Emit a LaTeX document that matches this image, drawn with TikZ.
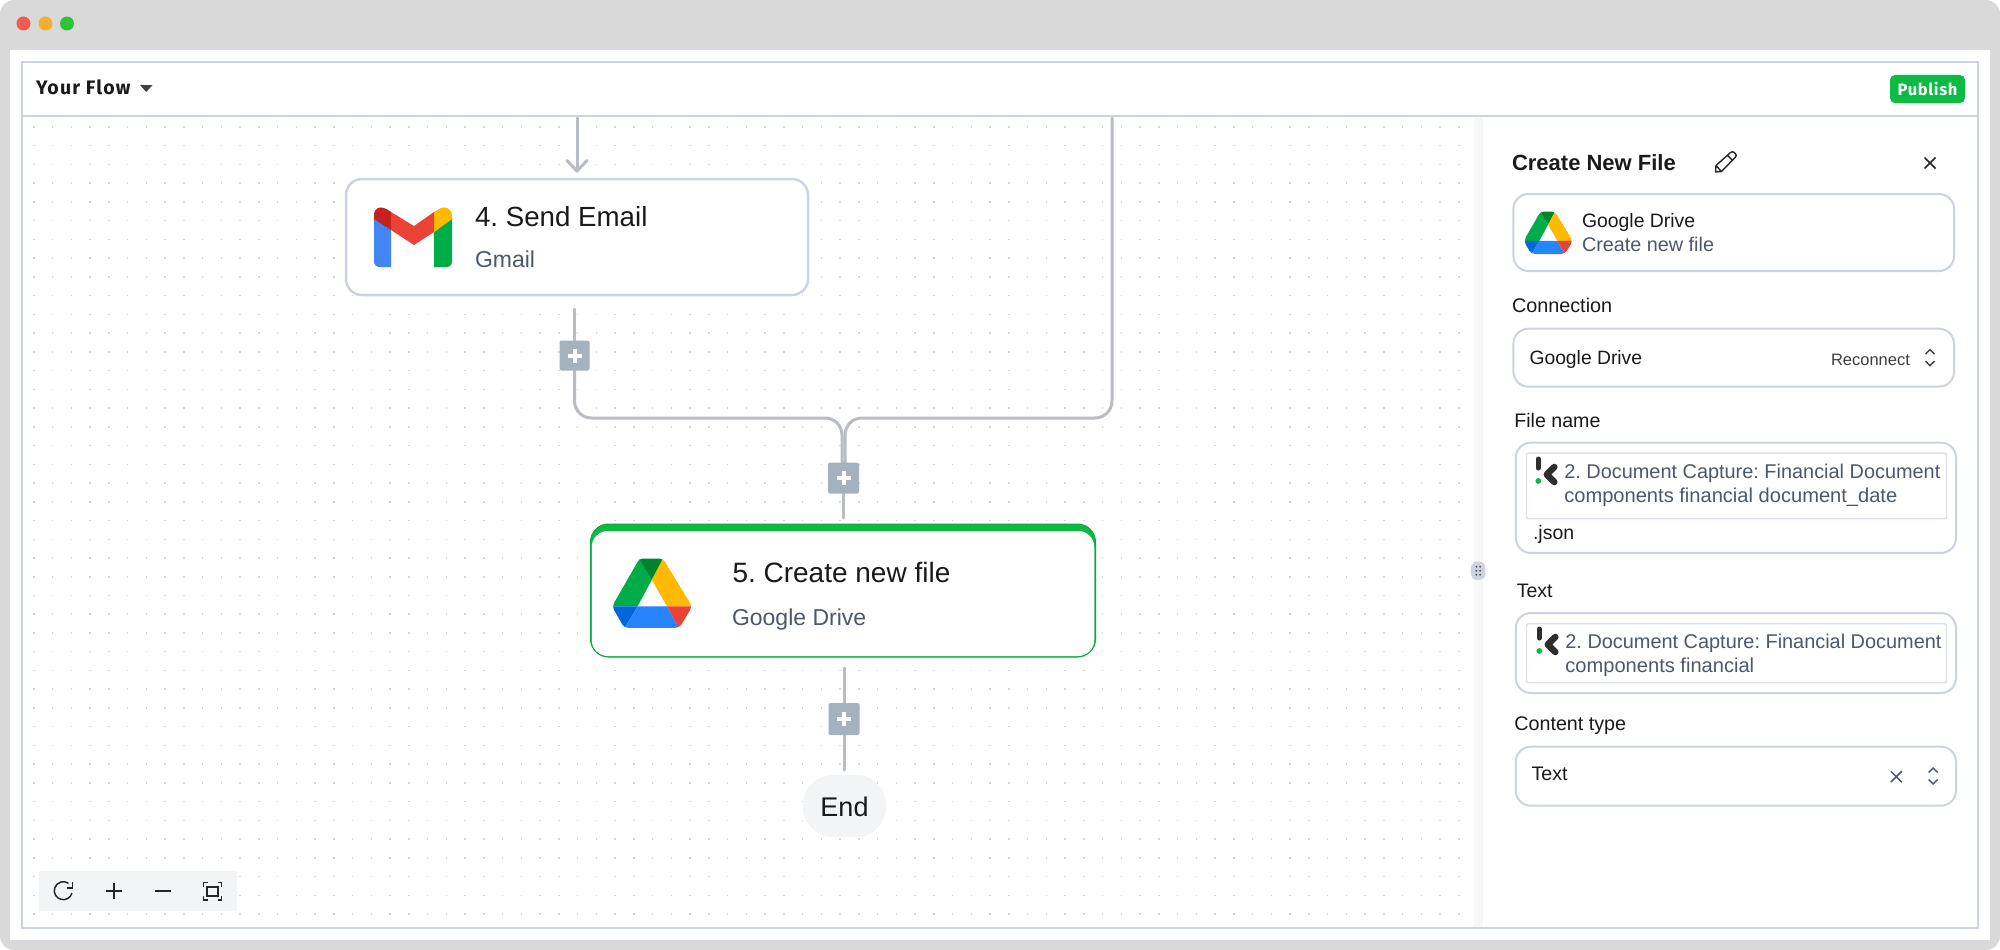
\documentclass[tikz,border=0pt]{standalone}
\usepackage{fontspec}
\setmainfont{Liberation Sans}
\newfontfamily\headf[LetterSpace=6]{Fira Sans}
\newfontfamily\pubf[LetterSpace=4]{Fira Sans}
\definecolor{shell}{HTML}{D9D9D9}
\definecolor{frameline}{HTML}{CDD3E0}
\definecolor{flowline}{HTML}{B9BCC3}
\definecolor{plusbg}{HTML}{A6B1C0}
\definecolor{pubgreen}{HTML}{0DBB44}
\definecolor{inkmain}{HTML}{1A1A1A}
\definecolor{inksub}{HTML}{4D586B}
\definecolor{softbg}{HTML}{F3F4F6}
\definecolor{dotc}{HTML}{D3D6DC}
\definecolor{gblue}{HTML}{4285F4}
\definecolor{ggreen}{HTML}{00AC47}
\definecolor{gyellow}{HTML}{FFBA00}
\definecolor{gred}{HTML}{EA4335}
\definecolor{gdred}{HTML}{C5221F}
\definecolor{ddgreen}{HTML}{00832D}
\definecolor{ddblue}{HTML}{0066DA}
\definecolor{dblue}{HTML}{2684FC}
\newcommand{\fsz}[1]{\fontsize{#1}{#1}\selectfont}
\newcommand{\driveicon}[3]{%
\begin{scope}[shift={(#1,#2)},scale=#3]
\begin{scope}
\clip[rounded corners=4pt] (0,47)--(26.5,0)--(50,0)--(78.7,47)--(66,68)--(12,68)--cycle;
\fill[ggreen] (0,47)--(27,0)--(39,21)--(25,47)--cycle;
\fill[ddgreen] (26,-1)--(51,-1)--(39,21)--cycle;
\fill[gyellow] (50,0)--(79,47)--(54,47)--(39,21)--cycle;
\fill[ddblue] (-1,47)--(25,47)--(12,69)--(-1,69)--cycle;
\fill[dblue] (25,47)--(54,47)--(66,69)--(12,69)--cycle;
\fill[gred] (54,47)--(80,47)--(80,69)--(66,69)--cycle;
\end{scope}
\end{scope}}
\newcommand{\klogo}[2]{%
\begin{scope}[shift={(#1,#2)}]
\draw[line width=5pt,line cap=round,color=black!82] (0,2.5)--(0,11.5);
\fill[pubgreen] (0,24.5) circle[radius=2.9];
\draw[line width=6.5pt,line cap=round,line join=round,color=black!82] (16,10.5)--(8.5,18)--(16,25.5);
\end{scope}}
\newcommand{\updown}[2]{%
\begin{scope}[shift={(#1,#2)}]
\draw[iconline] (-4.5,-3.5)--(0,-8)--(4.5,-3.5);
\draw[iconline] (-4.5,3.5)--(0,8)--(4.5,3.5);
\end{scope}}
\begin{document}
\frenchspacing
\begin{tikzpicture}[x=1pt,y=-1pt,
  txt/.style={anchor=base west,inner sep=0pt,outer sep=0pt},
  fieldbox/.style={draw=frameline,fill=white,line width=2pt,rounded corners=15pt,inner sep=0pt,outer sep=0pt},
  innerbox/.style={draw=frameline!70,fill=white,line width=1.4pt,rounded corners=2pt,inner sep=0pt,outer sep=0pt},
  flow/.style={draw=flowline,line width=3pt,line cap=round},
  plusbox/.style={fill=plusbg,rounded corners=2pt,inner sep=0pt,outer sep=0pt,minimum width=30pt,minimum height=30pt,
    path picture={\draw[white,line width=4pt] ([xshift=-7pt]path picture bounding box.center)--([xshift=7pt]path picture bounding box.center);
                  \draw[white,line width=4pt] ([yshift=-7pt]path picture bounding box.center)--([yshift=7pt]path picture bounding box.center);}},
  iconline/.style={draw=black!75,line width=1.4pt},
]
\useasboundingbox (0,0) rectangle (2000,950);
\fill[white] (0,0) rectangle (2000,950);
\fill[shell,rounded corners=14pt] (0,0) rectangle (2000,950);
\fill[white] (10,50) rectangle (1990,940);
% panel and canvas
\fill[white] (22,62) rectangle (1978,928);
\foreach \j in {0,...,42}{
  \draw[dotc,line width=1.5pt,dash pattern=on 1.5pt off 17.25pt] (33.2,{127+18.74*\j}) -- (1474,{127+18.74*\j});
}
\fill[white] (1483,116) rectangle (1978,928);
\fill[black!3] (1474,116) rectangle (1483,928);
\draw[frameline,line width=2pt] (22,62) rectangle (1978,928);
\draw[frameline,line width=2pt] (22,116) -- (1978,116);
% traffic lights
\fill[color={rgb,255:red,239;green,91;blue,82}] (23.5,23.5) circle[radius=7];
\fill[color={rgb,255:red,242;green,177;blue,44}] (45.5,23.5) circle[radius=7];
\fill[color={rgb,255:red,45;green,196;blue,60}] (67,23.5) circle[radius=7];
% header
\node[txt,font=\headf\bfseries\fsz{19.5},text=inkmain] (flowtitle) at (36,94) {Your Flow};
\fill[black!75] (140,85)--(152.5,85)--(146.2,92)--cycle;
\node[fill=pubgreen,rounded corners=5pt,inner sep=0pt,outer sep=0pt,minimum width=75pt,minimum height=28pt,text=white,font=\pubf\bfseries\fsz{16.5}] (publish) at (1927.5,89) {Publish};

% coordinates for free connector ends
\coordinate (topL) at (577,118);
\coordinate (topR) at (1112,118);
\coordinate (outL) at (574.5,309);
\coordinate (mL) at (842,418);
\coordinate (mR) at (845,418);
\coordinate (outF) at (844,668);
\coordinate (endT) at (844,770);
\coordinate (arrowtip) at (577,171);
% connector anchors known before nodes are drawn on top
\coordinate (plusAc) at (574.5,355.5);
\coordinate (plusBc) at (843.5,478);
\coordinate (plusCc) at (844,719);
% connectors
\draw[flow] (topL) -- (arrowtip);
\draw[flow,line join=round] (567,160.5) -- (arrowtip) -- (587,160.5);
\draw[flow] (outL) -- (plusAc);
\draw[flow,rounded corners=17pt] (plusAc) |- (mL) -- (mL |- plusBc);
\draw[flow,rounded corners=17pt] (topR) |- (mR) -- (mR |- plusBc);
\draw[flow] (plusBc) -- (843.5,518);
\draw[flow] (outF) -- (endT);
% nodes
\node[fieldbox,draw=frameline,line width=2.5pt,rounded corners=16pt,minimum width=462pt,minimum height=116pt] (gmailcard) at (577,237) {};
\node[plusbox] (plusA) at (plusAc) {};
\node[plusbox,minimum width=31pt,minimum height=31pt] (plusB) at (plusBc) {};
\node[plusbox,minimum width=31pt,minimum height=32pt] (plusC) at (plusCc) {};
\node[fill=pubgreen,draw=pubgreen!90!black,line width=1pt,rounded corners=18pt,inner sep=0pt,outer sep=0pt,minimum width=505pt,minimum height=133pt] (drivecard) at (843,590.5) {};
\node[fill=white,rounded corners=16pt,inner sep=0pt,outer sep=0pt,minimum width=502.5pt,minimum height=125pt] (drivecardin) at (843,593.5) {};
\node[fill=softbg,rounded corners=30pt,inner sep=0pt,outer sep=0pt,minimum width=83pt,minimum height=62pt] (endnode) at (844.5,806) {};
\node[anchor=base,inner sep=0pt,font=\fsz{27},text=inkmain] (endlabel) at (844.5,816) {End};
% gmail icon
\fill[gblue] (374,218)--(391,230)--(391,267)--(380,267)..controls (376,267) and (374,265) ..(374,261)--cycle;
\fill[ggreen] (452,218)--(434,232)--(434,267)--(446,267)..controls (450,267) and (452,265) ..(452,261)--cycle;
\fill[gdred] (391,212)--(388,210)..controls (380,205) and (374,208) ..(374,215)--(374,219)--(391,230)--cycle;
\fill[gyellow] (434,212)--(439,209)..controls (446,205) and (452,209) ..(452,216)--(452,219)--(434,232)--cycle;
\fill[gred] (391,212)--(414,226)--(434,212)--(434,232)--(414,245)--(391,230)--cycle;
% card texts
\node[txt,font=\fsz{27.7},text=inkmain] (sendemail) at (475,226) {4. Send Email};
\node[txt,font=\fsz{23},text=inksub] (gmailsub) at (475,267) {Gmail};
\driveicon{612}{558.5}{1.02}
\node[txt,font=\fsz{28},text=inkmain] (createfile) at (732.5,582.7) {5. Create new file};
\node[txt,font=\fsz{23},text=inksub] (drivesub) at (732,625) {Google Drive};
% toolbar
\node[fill=softbg,inner sep=0pt,outer sep=0pt,minimum width=198pt,minimum height=40pt] (toolbar) at (138,891) {};
\draw[black!85,line width=1.5pt] (72,893) arc[start angle=15,end angle=305,radius=9];
\draw[black!85,line width=1.5pt,line join=miter] (72.6,882)--(72.6,888)--(66.5,888);
\draw[black!85,line width=1.5pt] (106,891)--(122,891) (114,883)--(114,899);
\draw[black!85,line width=1.5pt] (155,891)--(171,891);
\draw[black!85,line width=1.5pt] (203.5,887)--(203.5,882.5)--(208,882.5) (217.5,882.5)--(221.7,882.5)--(221.7,887) (221.7,895.5)--(221.7,900)--(217.5,900) (208,900)--(203.5,900)--(203.5,895.5);
\draw[black!85,line width=1.5pt] (207,887) rectangle (218,896);
% side panel
\node[txt,font=\bfseries\fsz{22},text=inkmain] (paneltitle) at (1512,170) {Create New File};
\draw[black!85,line width=1.4pt,line join=round] (1715.5,172)--(1716,165.5)--(1730.5,152.5)..controls (1732,151.5) and (1733,151.5) ..(1734,152.5)--(1735.5,154)..controls (1736.5,155) and (1736.5,156) ..(1735.5,157)--(1721.5,171.5)--cycle (1716,165.5)--(1721.5,171.5) (1727.5,155.5)--(1732.5,160.5);
\draw[black!85,line width=1.5pt] (1924.5,157.5)--(1935.5,168.5) (1924.5,168.5)--(1935.5,157.5);
\node[fieldbox,minimum width=440.6pt,minimum height=77pt] (boxservice) at (1733.7,232.5) {};
\driveicon{1523.7}{211.5}{0.625}
\node[txt,font=\fsz{19.4},text=inkmain] (svcname) at (1582,227) {Google Drive};
\node[txt,font=\fsz{19.8},text=inksub] (svcact) at (1582,251.7) {Create new file};
\node[txt,font=\fsz{19.8},text=inkmain] (lblconn) at (1512,312.7) {Connection};
\node[fieldbox,minimum width=440.6pt,minimum height=58pt] (boxconn) at (1733.7,357.7) {};
\node[txt,font=\fsz{19.3},text=inkmain] (connval) at (1529.5,364) {Google Drive};
\node[txt,font=\fsz{16.5},text=black!75] (reconnect) at (1831,365) {Reconnect};
\updown{1930}{357.7}
\node[txt,font=\fsz{19.6},text=inkmain] (lblfile) at (1514.4,427) {File name};
\node[fieldbox,minimum width=440.2pt,minimum height=110.3pt] (boxfile) at (1735.9,497.8) {};
\node[innerbox,minimum width=420pt,minimum height=65.7pt] (innerfile) at (1736.5,485.9) {};
\klogo{1538.3}{456.5}
\node[txt,font=\fsz{19.9},text=inksub] (fileA) at (1564.3,478) {2. Document Capture: Financial Document};
\node[txt,font=\fsz{20.1},text=inksub] (fileB) at (1564.3,502) {components financial document\_date};
\node[txt,font=\fsz{19.5},text=inkmain] (filesuffix) at (1533,539) {.json};
\node[txt,font=\fsz{19.5},text=inkmain] (lbltext) at (1516.8,597.3) {Text};
\node[fieldbox,minimum width=440.2pt,minimum height=80pt] (boxtext) at (1735.9,653) {};
\node[innerbox,minimum width=420pt,minimum height=59pt] (innertext) at (1736.5,653.2) {};
\klogo{1539.3}{626.5}
\node[txt,font=\fsz{19.9},text=inksub] (textA) at (1565.4,648) {2. Document Capture: Financial Document};
\node[txt,font=\fsz{20.1},text=inksub] (textB) at (1565.4,672) {components financial};
\node[txt,font=\fsz{19.7},text=inkmain] (lbltype) at (1514.4,730.7) {Content type};
\node[fieldbox,minimum width=440.2pt,minimum height=59pt] (boxtype) at (1735.9,776.2) {};
\node[txt,font=\fsz{19.6},text=inkmain] (typeval) at (1531.6,780.7) {Text};
\draw[inksub,line width=1.5pt] (1890.8,771.2)--(1901.8,782.2) (1890.8,782.2)--(1901.8,771.2);
\begin{scope}[iconline/.append style={draw=inksub}]
\updown{1933}{776}
\end{scope}
% resize handle
\node[fill=frameline,rounded corners=6.5pt,inner sep=0pt,outer sep=0pt,minimum width=14.5pt,minimum height=18.5pt] (handle) at (1478.2,570.8) {};
\fill[black!70] (1476.3,566.8) circle[radius=1] (1480.1,566.8) circle[radius=1] (1476.3,570.8) circle[radius=1] (1480.1,570.8) circle[radius=1] (1476.3,574.8) circle[radius=1] (1480.1,574.8) circle[radius=1];
\end{tikzpicture}
\end{document}
